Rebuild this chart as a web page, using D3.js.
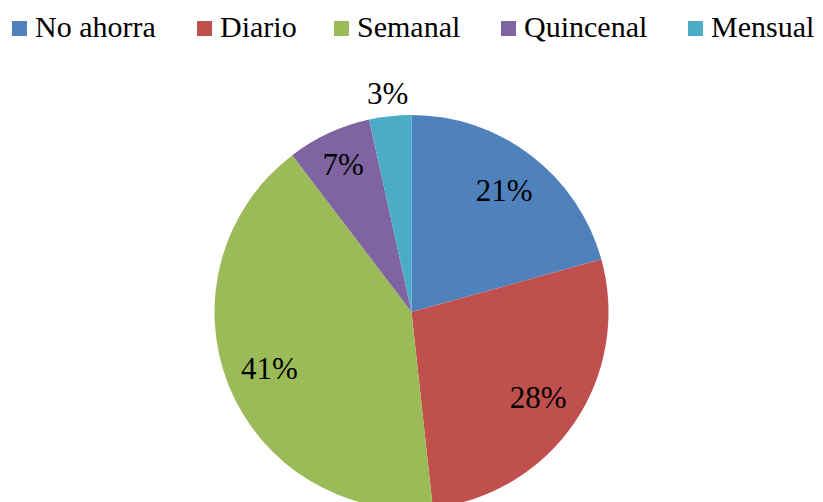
<!DOCTYPE html>
<html>
<head>
<meta charset="utf-8">
<script src="https://cdn.jsdelivr.net/npm/d3@7"></script>
</head>
<body style="margin:0">
<script>
// ahorro - frecuencia (n = 29)
var categories = ["No ahorra", "Diario", "Semanal", "Quincenal", "Mensual"];
var counts = [6, 8, 12, 2, 1];
var colors = ["#4F81BD", "#C0504D", "#9BBB59", "#8064A2", "#4BACC6"];

const width = 823, height = 502;
const cx = 411.5, cy = 312, radius = 197;
const font = "'Times New Roman'";
// legend item left edges (square)
const legendX = [12, 197, 334, 501, 688];

var svg = d3.select("body").append("svg")
    .attr("width", width)
    .attr("height", height)
    .style("font-family", font);

var data = categories.map(function(c, i) {
    return { name: c, value: counts[i], color: colors[i] };
});
var total = d3.sum(counts);

var pie = d3.pie().sort(null).value(d => d.value);
var arc = d3.arc().innerRadius(0).outerRadius(radius);
var arcs = pie(data);

svg.selectAll("path")
    .data(arcs)
    .enter()
    .append("path")
    .attr("transform", "translate(" + cx + "," + cy + ")")
    .attr("d", arc)
    .attr("fill", d => d.data.color);

// label radius: small slices go further out, tiny ones outside the pie
function labelR(d) {
    var p = d.data.value / total;
    if (p < 0.05) return 220;
    if (p < 0.1) return 163;
    return 153;
}

arcs.forEach(function(d) {
    var r = labelR(d);
    var c = d3.arc().innerRadius(r).outerRadius(r).centroid(d);
    svg.append("text")
        .attr("x", cx + c[0])
        .attr("y", cy + c[1] + 10.5)
        .attr("text-anchor", "middle")
        .attr("font-size", 31)
        .style("font-family", font)
        .text(Math.round(d.data.value / total * 100) + "%");
});

// legend
data.forEach(function(d, i) {
    svg.append("rect")
        .attr("x", legendX[i]).attr("y", 21)
        .attr("width", 15).attr("height", 15)
        .attr("fill", d.color);
    svg.append("text")
        .attr("x", legendX[i] + 23).attr("y", 37)
        .attr("font-size", 30)
        .style("font-family", font)
        .text(d.name);
});
</script>
</body>
</html>
